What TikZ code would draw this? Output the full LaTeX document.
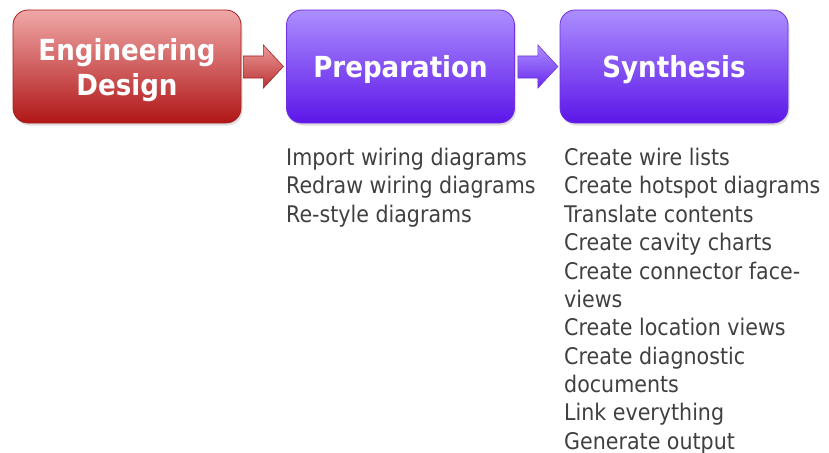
\documentclass[tikz,border=0pt]{standalone}
\usepackage{fontspec}
\setmainfont{DejaVu Sans Condensed}
\usetikzlibrary{calc,shadows}
\definecolor{redtop}{RGB}{240,168,168}
\definecolor{redbot}{RGB}{176,22,22}
\definecolor{redline}{RGB}{170,30,30}
\definecolor{purtop}{RGB}{172,142,255}
\definecolor{purbot}{RGB}{92,22,232}
\definecolor{purline}{RGB}{112,48,224}
\definecolor{listgray}{RGB}{64,64,64}
\tikzset{
  stagebox/.style={rounded corners=15pt, minimum width=228pt, minimum height=113pt,
    inner sep=0pt, align=center, text=white, line width=0.8pt, text depth=0pt,
    font=\fontsize{29}{35}\selectfont\bfseries,
    drop shadow={opacity=0.25, shadow xshift=1.5pt, shadow yshift=-2.5pt}},
  redbox/.style={stagebox, draw=redline, top color=redtop, bottom color=redbot},
  purbox/.style={stagebox, draw=purline, top color=purtop, bottom color=purbot},
  redarrow/.style={draw=redline, line width=0.6pt, top color=redtop!90!redbot, bottom color=redbot!80!redtop},
  purarrow/.style={draw=purline, line width=0.6pt, top color=purtop, bottom color=purbot!85!purtop},
  listtext/.style={anchor=north west, align=left, inner sep=0pt, text=listgray,
    font=\fontsize{22.9}{28.35}\selectfont}
}
\begin{document}
\begin{tikzpicture}[x=1pt,y=-1pt]
\useasboundingbox (0,0) rectangle (829,452);
\node[redbox] (ed) at (127,66.5) {Engineering\\Design};
\node[purbox] (pr) at (400.5,66.5) {Preparation};
\node[purbox] (sy) at (674,66.5) {Synthesis};
% block arrows
\path[redarrow] ($(ed.east)+(2,-10.5)$) -- ($(ed.east)+(22,-10.5)$) -- ($(ed.east)+(22,-21.5)$)
  -- ($(ed.east)+(42,0)$) -- ($(ed.east)+(22,21.5)$) -- ($(ed.east)+(22,11.5)$)
  -- ($(ed.east)+(2,11.5)$) -- cycle;
\path[purarrow] ($(pr.east)+(3,-10.5)$) -- ($(pr.east)+(23,-10.5)$) -- ($(pr.east)+(23,-21.5)$)
  -- ($(pr.east)+(43,0)$) -- ($(pr.east)+(23,21.5)$) -- ($(pr.east)+(23,11.5)$)
  -- ($(pr.east)+(3,11.5)$) -- cycle;
\node[listtext] (pl) at (286,148) {Import wiring diagrams\\Redraw wiring diagrams\\Re-style diagrams};
\node[listtext] (sl) at (564,148) {Create wire lists\\Create hotspot diagrams\\Translate contents\\Create cavity charts\\Create connector face-\\views\\Create location views\\Create diagnostic\\documents\\Link everything\\Generate output};
\end{tikzpicture}
\end{document}
